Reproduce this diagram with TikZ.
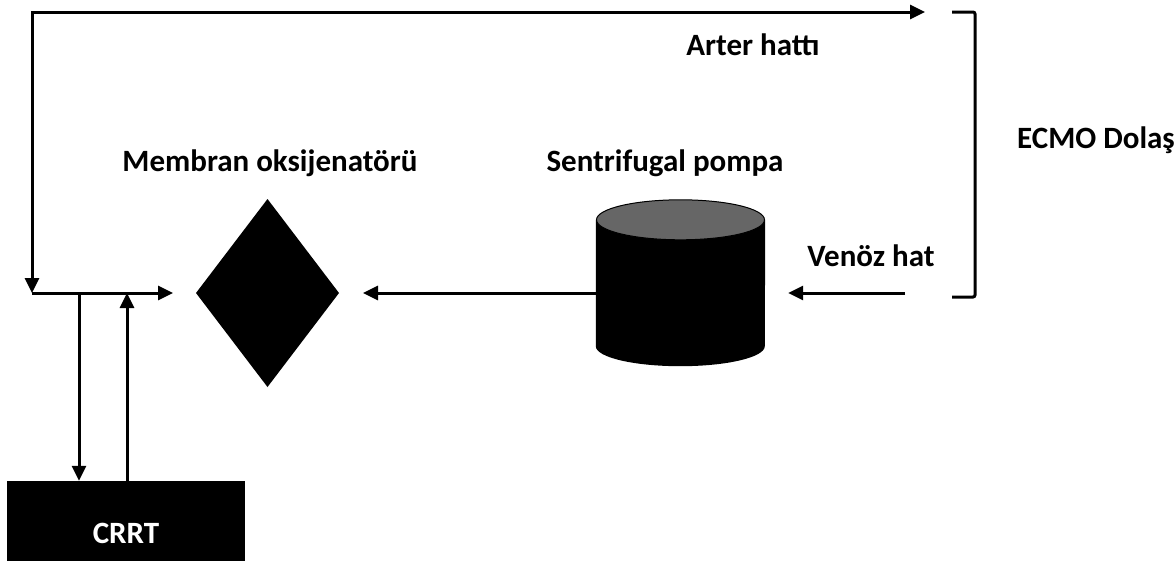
\documentclass[tikz,border=0pt]{standalone}
\usepackage{fontspec}
\setmainfont{Carlito}
\usetikzlibrary{arrows.meta,shapes.geometric}

\definecolor{pumptop}{HTML}{666666}

\tikzset{
  flow/.style={line width=3pt, -{Triangle[length=15pt,width=14pt]}},
  lbl/.style={font=\fontsize{31}{37}\selectfont\bfseries, inner sep=0pt},
}

\begin{document}
\begin{tikzpicture}[x=1pt, y=-1pt]
    \useasboundingbox (0,0) rectangle (1176,560);

    % Oxygenator and pump
    \node[diamond, fill=black, minimum width=143pt, minimum height=188pt,
          inner sep=0pt, outer sep=0pt] (oxy) at (267.5,293) {};
    \node[minimum width=169pt, minimum height=166pt, inner sep=0pt] (pump) at (680.5,283) {};
    \fill[black] ([yshift=-20pt]pump.north west) -- ([yshift=20pt]pump.south west)
        arc[start angle=180, end angle=360, x radius=84.5pt, y radius=20pt]
        -- ([yshift=-20pt]pump.north east) -- cycle;
    \filldraw[fill=pumptop, draw=black, line width=1pt]
        ([yshift=-20pt]pump.north) ellipse[x radius=84pt, y radius=20pt];

    % CRRT unit
    \node[fill=black, text=white, minimum width=238pt, minimum height=104pt,
          inner sep=0pt, font=\fontsize{31}{37}\selectfont\bfseries] (crrt) at (126,533) {CRRT};

    % Labels
    \node[lbl] (arterlbl) at (753,45) {Arter hattı};
    \node[lbl] (oxylbl) at (270,163) {Membran oksijenatörü};
    \node[lbl] (pumplbl) at (665,163) {Sentrifugal pompa};
    \node[lbl] (venlbl) at (871,256) {Venöz hat};
    \node[lbl, anchor=east] (ecmolbl) at (1175,140) {ECMO Dolaş};

    % Circuit lines
    \coordinate (junc) at (32,293);
    \coordinate (artend) at (925,12);
    \coordinate (venstart) at (905,293);
    \coordinate (tapout) at (79,293);
    \coordinate (tapin) at (127,293);

    \draw[flow, {Triangle[length=15pt,width=14pt]}-{Triangle[length=15pt,width=14pt]}]
        (artend) -| (junc);
    \draw[flow] (junc) -- ([xshift=-23pt]oxy.west);
    \draw[flow] (pump.west |- oxy) -- ([xshift=24pt]oxy.east);
    \draw[flow] (venstart) -- ([xshift=23pt]pump.east |- oxy);
    \draw[flow] (tapout) -- (tapout |- crrt.north);
    \draw[flow] (crrt.north -| tapin) -- (tapin);

    % ECMO bracket
    \draw[line width=3pt, rounded corners=2pt] (952,12) -- (975,12) -- (975,297) -- (952,297);
\end{tikzpicture}
\end{document}
